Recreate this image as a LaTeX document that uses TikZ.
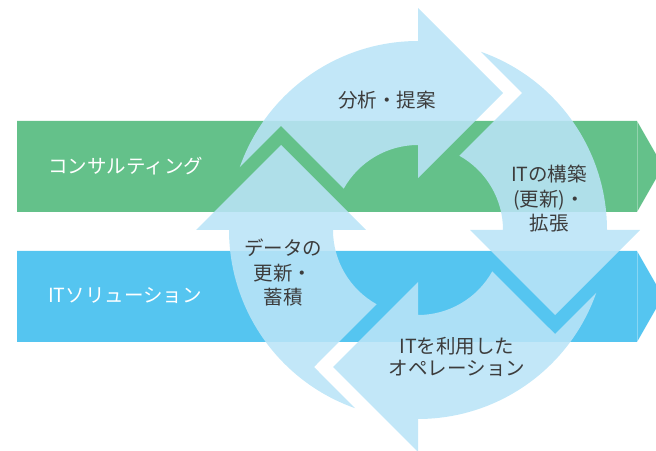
\documentclass[tikz,border=0pt]{standalone}
\usepackage{fontspec}
\setmainfont{Noto Sans CJK JP}
\definecolor{bandgreen}{RGB}{100,193,138}
\definecolor{bandblue}{RGB}{85,197,240}
\definecolor{arrowblue}{RGB}{186,228,247}
\definecolor{labelgray}{RGB}{60,60,60}
\tikzset{
  cyclearrow/.style={fill=arrowblue,fill opacity=0.88},
  bandlabel/.style={anchor=west,inner sep=0pt,text=white,font=\fontsize{19.5}{22}\selectfont},
  cyclelabel/.style={align=center,text=labelgray,font=\fontsize{19.5}{24.5}\selectfont}
}
\begin{document}
\begin{tikzpicture}[x=1pt,y=1pt]
\useasboundingbox (0,0) rectangle (656,450);
\clip (0,0) rectangle (656,450);
% bands
\fill[bandgreen] (17,238) -- (637,238) -- (663,283.5) -- (637,329) -- (17,329) -- cycle;
\fill[bandblue] (17,108) -- (637,108) -- (663,153.5) -- (637,199) -- (17,199) -- cycle;
\draw[white,opacity=0.3,line width=1pt] (637,238) -- (637,329) (637,108) -- (637,199);
\node[bandlabel] (consulting) at (48,284) {コンサルティング};
\node[bandlabel] (itsolution) at (48,154) {ITソリューション};
% cycle of arrows
\coordinate (C) at (418,220);
\foreach \r in {0,-90,-180,-270}{
  \begin{scope}[shift={(C)},rotate=\r]
    \fill[cyclearrow] (160.6:189) arc[start angle=160.6,end angle=90,radius=189]
      -- (0,222) -- (85,137) -- (0,52) -- (0,85)
      arc[start angle=90,end angle=150.9,radius=85] -- (-137,104) -- cycle;
  \end{scope}
}
\node[cyclelabel] (analysis) at (387,350) {分析・提案};
\node[cyclelabel] (build) at (549,251) {ITの構築\\(更新)・\\拡張};
\node[cyclelabel,font=\fontsize{19.5}{22.5}\selectfont] (operation) at (457,93) {ITを利用した\\オペレーション};
\node[cyclelabel] (data) at (283,177) {データの\\更新・\\蓄積};
\end{tikzpicture}
\end{document}
